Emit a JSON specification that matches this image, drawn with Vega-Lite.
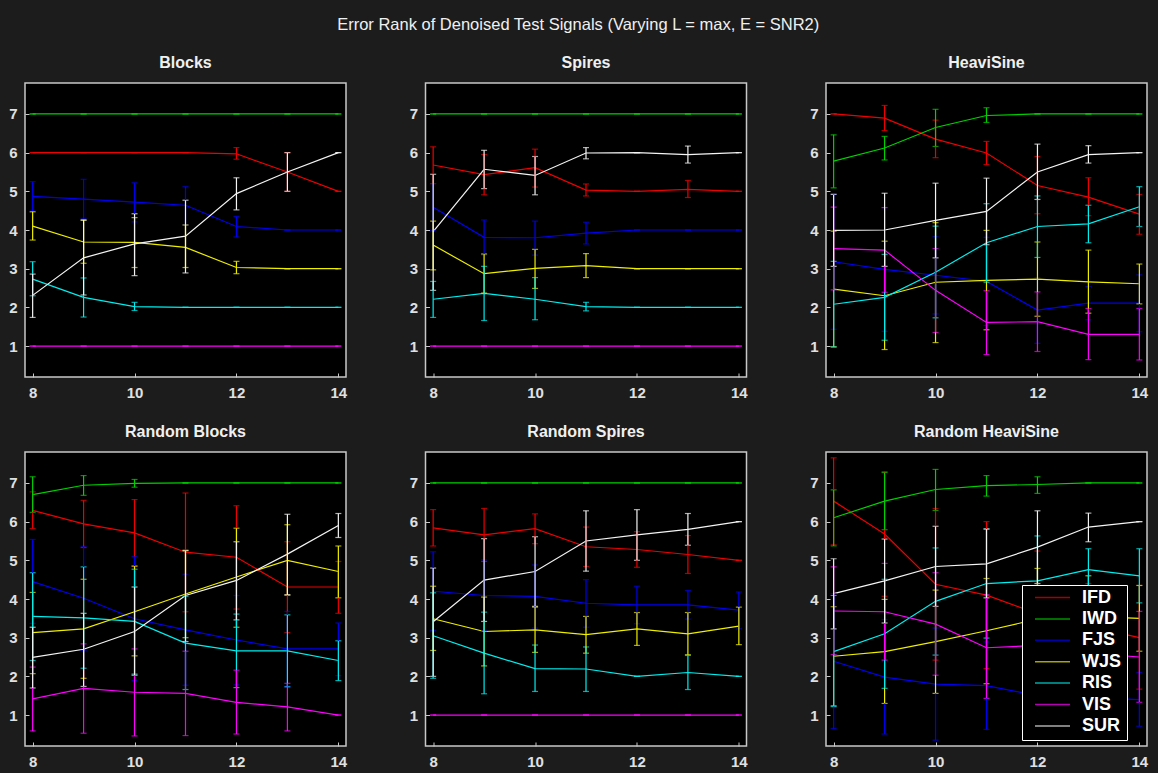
{
"$schema": "https://vega.github.io/schema/vega-lite/v6.json",
"background": "#1c1c1c",
"padding": {"left": 7, "top": 16, "right": 10, "bottom": 8},
"title": {"text": "Error Rank of Denoised Test Signals (Varying L = max, E = SNR2)", "color": "#f0f0f0", "fontSize": 16.5, "fontWeight": "normal", "font": "Liberation Sans", "anchor": "middle", "offset": 21},
"data": {"values": [
{"p":"Blocks","m":"IFD","x":8,"v":6,"lo":6,"hi":6},
{"p":"Blocks","m":"IFD","x":9,"v":6,"lo":6,"hi":6},
{"p":"Blocks","m":"IFD","x":10,"v":6,"lo":6,"hi":6},
{"p":"Blocks","m":"IFD","x":11,"v":6,"lo":6,"hi":6},
{"p":"Blocks","m":"IFD","x":12,"v":5.97,"lo":5.83,"hi":6.13},
{"p":"Blocks","m":"IFD","x":13,"v":5.5,"lo":5.0,"hi":6.0},
{"p":"Blocks","m":"IFD","x":14,"v":5,"lo":5,"hi":5},
{"p":"Blocks","m":"IWD","x":8,"v":7,"lo":7,"hi":7},
{"p":"Blocks","m":"IWD","x":9,"v":7,"lo":7,"hi":7},
{"p":"Blocks","m":"IWD","x":10,"v":7,"lo":7,"hi":7},
{"p":"Blocks","m":"IWD","x":11,"v":7,"lo":7,"hi":7},
{"p":"Blocks","m":"IWD","x":12,"v":7,"lo":7,"hi":7},
{"p":"Blocks","m":"IWD","x":13,"v":7,"lo":7,"hi":7},
{"p":"Blocks","m":"IWD","x":14,"v":7,"lo":7,"hi":7},
{"p":"Blocks","m":"FJS","x":8,"v":4.87,"lo":4.49,"hi":5.25},
{"p":"Blocks","m":"FJS","x":9,"v":4.80,"lo":4.29,"hi":5.31},
{"p":"Blocks","m":"FJS","x":10,"v":4.72,"lo":4.21,"hi":5.22},
{"p":"Blocks","m":"FJS","x":11,"v":4.64,"lo":4.13,"hi":5.12},
{"p":"Blocks","m":"FJS","x":12,"v":4.09,"lo":3.82,"hi":4.35},
{"p":"Blocks","m":"FJS","x":13,"v":4,"lo":4,"hi":4},
{"p":"Blocks","m":"FJS","x":14,"v":4,"lo":4,"hi":4},
{"p":"Blocks","m":"WJS","x":8,"v":4.10,"lo":3.74,"hi":4.47},
{"p":"Blocks","m":"WJS","x":9,"v":3.69,"lo":3.14,"hi":4.25},
{"p":"Blocks","m":"WJS","x":10,"v":3.68,"lo":3.03,"hi":4.32},
{"p":"Blocks","m":"WJS","x":11,"v":3.55,"lo":3.03,"hi":4.13},
{"p":"Blocks","m":"WJS","x":12,"v":3.03,"lo":2.87,"hi":3.19},
{"p":"Blocks","m":"WJS","x":13,"v":3,"lo":3,"hi":3},
{"p":"Blocks","m":"WJS","x":14,"v":3,"lo":3,"hi":3},
{"p":"Blocks","m":"RIS","x":8,"v":2.73,"lo":2.30,"hi":3.18},
{"p":"Blocks","m":"RIS","x":9,"v":2.26,"lo":1.75,"hi":2.76},
{"p":"Blocks","m":"RIS","x":10,"v":2.02,"lo":1.92,"hi":2.13},
{"p":"Blocks","m":"RIS","x":11,"v":2,"lo":2,"hi":2},
{"p":"Blocks","m":"RIS","x":12,"v":2,"lo":2,"hi":2},
{"p":"Blocks","m":"RIS","x":13,"v":2,"lo":2,"hi":2},
{"p":"Blocks","m":"RIS","x":14,"v":2,"lo":2,"hi":2},
{"p":"Blocks","m":"VIS","x":8,"v":1,"lo":1,"hi":1},
{"p":"Blocks","m":"VIS","x":9,"v":1,"lo":1,"hi":1},
{"p":"Blocks","m":"VIS","x":10,"v":1,"lo":1,"hi":1},
{"p":"Blocks","m":"VIS","x":11,"v":1,"lo":1,"hi":1},
{"p":"Blocks","m":"VIS","x":12,"v":1,"lo":1,"hi":1},
{"p":"Blocks","m":"VIS","x":13,"v":1,"lo":1,"hi":1},
{"p":"Blocks","m":"VIS","x":14,"v":1,"lo":1,"hi":1},
{"p":"Blocks","m":"SUR","x":8,"v":2.31,"lo":1.74,"hi":2.86},
{"p":"Blocks","m":"SUR","x":9,"v":3.28,"lo":2.32,"hi":4.26},
{"p":"Blocks","m":"SUR","x":10,"v":3.64,"lo":2.82,"hi":4.42},
{"p":"Blocks","m":"SUR","x":11,"v":3.84,"lo":2.89,"hi":4.77},
{"p":"Blocks","m":"SUR","x":12,"v":4.94,"lo":4.52,"hi":5.35},
{"p":"Blocks","m":"SUR","x":13,"v":5.5,"lo":5.0,"hi":6.0},
{"p":"Blocks","m":"SUR","x":14,"v":6,"lo":6,"hi":6},

{"p":"Spires","m":"IFD","x":8,"v":5.68,"lo":5.20,"hi":6.15},
{"p":"Spires","m":"IFD","x":9,"v":5.43,"lo":4.91,"hi":5.95},
{"p":"Spires","m":"IFD","x":10,"v":5.61,"lo":5.11,"hi":6.09},
{"p":"Spires","m":"IFD","x":11,"v":5.03,"lo":4.88,"hi":5.19},
{"p":"Spires","m":"IFD","x":12,"v":5,"lo":5,"hi":5},
{"p":"Spires","m":"IFD","x":13,"v":5.05,"lo":4.84,"hi":5.28},
{"p":"Spires","m":"IFD","x":14,"v":5,"lo":5,"hi":5},
{"p":"Spires","m":"IWD","x":8,"v":7,"lo":7,"hi":7},
{"p":"Spires","m":"IWD","x":9,"v":7,"lo":7,"hi":7},
{"p":"Spires","m":"IWD","x":10,"v":7,"lo":7,"hi":7},
{"p":"Spires","m":"IWD","x":11,"v":7,"lo":7,"hi":7},
{"p":"Spires","m":"IWD","x":12,"v":7,"lo":7,"hi":7},
{"p":"Spires","m":"IWD","x":13,"v":7,"lo":7,"hi":7},
{"p":"Spires","m":"IWD","x":14,"v":7,"lo":7,"hi":7},
{"p":"Spires","m":"FJS","x":8,"v":4.59,"lo":3.99,"hi":5.20},
{"p":"Spires","m":"FJS","x":9,"v":3.81,"lo":3.35,"hi":4.26},
{"p":"Spires","m":"FJS","x":10,"v":3.80,"lo":3.35,"hi":4.23},
{"p":"Spires","m":"FJS","x":11,"v":3.92,"lo":3.64,"hi":4.20},
{"p":"Spires","m":"FJS","x":12,"v":4,"lo":4,"hi":4},
{"p":"Spires","m":"FJS","x":13,"v":4,"lo":4,"hi":4},
{"p":"Spires","m":"FJS","x":14,"v":4,"lo":4,"hi":4},
{"p":"Spires","m":"WJS","x":8,"v":3.61,"lo":2.97,"hi":4.23},
{"p":"Spires","m":"WJS","x":9,"v":2.87,"lo":2.37,"hi":3.38},
{"p":"Spires","m":"WJS","x":10,"v":3.01,"lo":2.49,"hi":3.50},
{"p":"Spires","m":"WJS","x":11,"v":3.08,"lo":2.77,"hi":3.39},
{"p":"Spires","m":"WJS","x":12,"v":3,"lo":3,"hi":3},
{"p":"Spires","m":"WJS","x":13,"v":3,"lo":3,"hi":3},
{"p":"Spires","m":"WJS","x":14,"v":3,"lo":3,"hi":3},
{"p":"Spires","m":"RIS","x":8,"v":2.21,"lo":1.74,"hi":2.67},
{"p":"Spires","m":"RIS","x":9,"v":2.36,"lo":1.66,"hi":3.06},
{"p":"Spires","m":"RIS","x":10,"v":2.21,"lo":1.68,"hi":2.77},
{"p":"Spires","m":"RIS","x":11,"v":2.02,"lo":1.91,"hi":2.13},
{"p":"Spires","m":"RIS","x":12,"v":2,"lo":2,"hi":2},
{"p":"Spires","m":"RIS","x":13,"v":2,"lo":2,"hi":2},
{"p":"Spires","m":"RIS","x":14,"v":2,"lo":2,"hi":2},
{"p":"Spires","m":"VIS","x":8,"v":1,"lo":1,"hi":1},
{"p":"Spires","m":"VIS","x":9,"v":1,"lo":1,"hi":1},
{"p":"Spires","m":"VIS","x":10,"v":1,"lo":1,"hi":1},
{"p":"Spires","m":"VIS","x":11,"v":1,"lo":1,"hi":1},
{"p":"Spires","m":"VIS","x":12,"v":1,"lo":1,"hi":1},
{"p":"Spires","m":"VIS","x":13,"v":1,"lo":1,"hi":1},
{"p":"Spires","m":"VIS","x":14,"v":1,"lo":1,"hi":1},
{"p":"Spires","m":"SUR","x":8,"v":3.96,"lo":2.44,"hi":5.44},
{"p":"Spires","m":"SUR","x":9,"v":5.57,"lo":5.07,"hi":6.06},
{"p":"Spires","m":"SUR","x":10,"v":5.41,"lo":4.91,"hi":5.90},
{"p":"Spires","m":"SUR","x":11,"v":5.99,"lo":5.84,"hi":6.13},
{"p":"Spires","m":"SUR","x":12,"v":6,"lo":6,"hi":6},
{"p":"Spires","m":"SUR","x":13,"v":5.95,"lo":5.73,"hi":6.17},
{"p":"Spires","m":"SUR","x":14,"v":6,"lo":6,"hi":6},

{"p":"HeaviSine","m":"IFD","x":8,"v":7,"lo":7,"hi":7},
{"p":"HeaviSine","m":"IFD","x":9,"v":6.89,"lo":6.57,"hi":7.22},
{"p":"HeaviSine","m":"IFD","x":10,"v":6.35,"lo":5.87,"hi":6.84},
{"p":"HeaviSine","m":"IFD","x":11,"v":5.99,"lo":5.69,"hi":6.29},
{"p":"HeaviSine","m":"IFD","x":12,"v":5.15,"lo":4.42,"hi":5.90},
{"p":"HeaviSine","m":"IFD","x":13,"v":4.85,"lo":4.37,"hi":5.35},
{"p":"HeaviSine","m":"IFD","x":14,"v":4.41,"lo":3.89,"hi":4.92},
{"p":"HeaviSine","m":"IWD","x":8,"v":5.78,"lo":5.09,"hi":6.46},
{"p":"HeaviSine","m":"IWD","x":9,"v":6.12,"lo":5.81,"hi":6.42},
{"p":"HeaviSine","m":"IWD","x":10,"v":6.65,"lo":6.16,"hi":7.12},
{"p":"HeaviSine","m":"IWD","x":11,"v":6.96,"lo":6.78,"hi":7.16},
{"p":"HeaviSine","m":"IWD","x":12,"v":7,"lo":7,"hi":7},
{"p":"HeaviSine","m":"IWD","x":13,"v":7,"lo":7,"hi":7},
{"p":"HeaviSine","m":"IWD","x":14,"v":7,"lo":7,"hi":7},
{"p":"HeaviSine","m":"FJS","x":8,"v":3.18,"lo":1.43,"hi":4.93},
{"p":"HeaviSine","m":"FJS","x":9,"v":2.98,"lo":1.38,"hi":4.58},
{"p":"HeaviSine","m":"FJS","x":10,"v":2.83,"lo":1.83,"hi":3.83},
{"p":"HeaviSine","m":"FJS","x":11,"v":2.67,"lo":1.53,"hi":3.81},
{"p":"HeaviSine","m":"FJS","x":12,"v":1.93,"lo":1.07,"hi":2.77},
{"p":"HeaviSine","m":"FJS","x":13,"v":2.11,"lo":1.68,"hi":2.54},
{"p":"HeaviSine","m":"FJS","x":14,"v":2.11,"lo":1.37,"hi":2.84},
{"p":"HeaviSine","m":"WJS","x":8,"v":2.47,"lo":0.98,"hi":3.97},
{"p":"HeaviSine","m":"WJS","x":9,"v":2.30,"lo":0.91,"hi":3.71},
{"p":"HeaviSine","m":"WJS","x":10,"v":2.65,"lo":1.09,"hi":4.19},
{"p":"HeaviSine","m":"WJS","x":11,"v":2.70,"lo":1.42,"hi":3.99},
{"p":"HeaviSine","m":"WJS","x":12,"v":2.73,"lo":1.77,"hi":3.69},
{"p":"HeaviSine","m":"WJS","x":13,"v":2.66,"lo":1.85,"hi":3.48},
{"p":"HeaviSine","m":"WJS","x":14,"v":2.61,"lo":2.09,"hi":3.12},
{"p":"HeaviSine","m":"RIS","x":8,"v":2.08,"lo":0.98,"hi":3.19},
{"p":"HeaviSine","m":"RIS","x":9,"v":2.26,"lo":1.15,"hi":3.37},
{"p":"HeaviSine","m":"RIS","x":10,"v":2.91,"lo":1.73,"hi":4.10},
{"p":"HeaviSine","m":"RIS","x":11,"v":3.67,"lo":2.65,"hi":4.68},
{"p":"HeaviSine","m":"RIS","x":12,"v":4.09,"lo":3.29,"hi":4.88},
{"p":"HeaviSine","m":"RIS","x":13,"v":4.16,"lo":3.67,"hi":4.64},
{"p":"HeaviSine","m":"RIS","x":14,"v":4.60,"lo":4.09,"hi":5.12},
{"p":"HeaviSine","m":"VIS","x":8,"v":3.52,"lo":2.45,"hi":4.59},
{"p":"HeaviSine","m":"VIS","x":9,"v":3.48,"lo":2.39,"hi":4.58},
{"p":"HeaviSine","m":"VIS","x":10,"v":2.44,"lo":1.35,"hi":3.52},
{"p":"HeaviSine","m":"VIS","x":11,"v":1.61,"lo":0.78,"hi":2.43},
{"p":"HeaviSine","m":"VIS","x":12,"v":1.63,"lo":0.86,"hi":2.40},
{"p":"HeaviSine","m":"VIS","x":13,"v":1.30,"lo":0.65,"hi":1.97},
{"p":"HeaviSine","m":"VIS","x":14,"v":1.30,"lo":0.64,"hi":1.97},
{"p":"HeaviSine","m":"SUR","x":8,"v":3.99,"lo":3.06,"hi":4.92},
{"p":"HeaviSine","m":"SUR","x":9,"v":4.0,"lo":3.06,"hi":4.95},
{"p":"HeaviSine","m":"SUR","x":10,"v":4.25,"lo":3.28,"hi":5.21},
{"p":"HeaviSine","m":"SUR","x":11,"v":4.48,"lo":3.62,"hi":5.34},
{"p":"HeaviSine","m":"SUR","x":12,"v":5.50,"lo":4.79,"hi":6.22},
{"p":"HeaviSine","m":"SUR","x":13,"v":5.95,"lo":5.73,"hi":6.18},
{"p":"HeaviSine","m":"SUR","x":14,"v":6,"lo":6,"hi":6},

{"p":"Random Blocks","m":"IFD","x":8,"v":6.29,"lo":5.82,"hi":6.77},
{"p":"Random Blocks","m":"IFD","x":9,"v":5.94,"lo":5.33,"hi":6.55},
{"p":"Random Blocks","m":"IFD","x":10,"v":5.71,"lo":4.85,"hi":6.57},
{"p":"Random Blocks","m":"IFD","x":11,"v":5.21,"lo":3.67,"hi":6.74},
{"p":"Random Blocks","m":"IFD","x":12,"v":5.08,"lo":3.74,"hi":6.41},
{"p":"Random Blocks","m":"IFD","x":13,"v":4.31,"lo":3.13,"hi":5.48},
{"p":"Random Blocks","m":"IFD","x":14,"v":4.31,"lo":3.63,"hi":4.97},
{"p":"Random Blocks","m":"IWD","x":8,"v":6.70,"lo":6.24,"hi":7.16},
{"p":"Random Blocks","m":"IWD","x":9,"v":6.94,"lo":6.68,"hi":7.19},
{"p":"Random Blocks","m":"IWD","x":10,"v":6.99,"lo":6.89,"hi":7.09},
{"p":"Random Blocks","m":"IWD","x":11,"v":7,"lo":7,"hi":7},
{"p":"Random Blocks","m":"IWD","x":12,"v":7,"lo":7,"hi":7},
{"p":"Random Blocks","m":"IWD","x":13,"v":7,"lo":7,"hi":7},
{"p":"Random Blocks","m":"IWD","x":14,"v":7,"lo":7,"hi":7},
{"p":"Random Blocks","m":"FJS","x":8,"v":4.45,"lo":3.37,"hi":5.54},
{"p":"Random Blocks","m":"FJS","x":9,"v":4.02,"lo":2.67,"hi":5.36},
{"p":"Random Blocks","m":"FJS","x":10,"v":3.49,"lo":1.89,"hi":5.10},
{"p":"Random Blocks","m":"FJS","x":11,"v":3.20,"lo":1.77,"hi":4.64},
{"p":"Random Blocks","m":"FJS","x":12,"v":2.94,"lo":1.78,"hi":4.09},
{"p":"Random Blocks","m":"FJS","x":13,"v":2.71,"lo":1.74,"hi":3.68},
{"p":"Random Blocks","m":"FJS","x":14,"v":2.71,"lo":2.02,"hi":3.38},
{"p":"Random Blocks","m":"WJS","x":8,"v":3.13,"lo":2.07,"hi":4.17},
{"p":"Random Blocks","m":"WJS","x":9,"v":3.23,"lo":1.95,"hi":4.51},
{"p":"Random Blocks","m":"WJS","x":10,"v":3.67,"lo":2.53,"hi":4.85},
{"p":"Random Blocks","m":"WJS","x":11,"v":4.13,"lo":3.0,"hi":5.26},
{"p":"Random Blocks","m":"WJS","x":12,"v":4.57,"lo":3.27,"hi":5.83},
{"p":"Random Blocks","m":"WJS","x":13,"v":5.0,"lo":4.10,"hi":5.92},
{"p":"Random Blocks","m":"WJS","x":14,"v":4.71,"lo":4.03,"hi":5.37},
{"p":"Random Blocks","m":"RIS","x":8,"v":3.55,"lo":2.41,"hi":4.68},
{"p":"Random Blocks","m":"RIS","x":9,"v":3.51,"lo":2.21,"hi":4.83},
{"p":"Random Blocks","m":"RIS","x":10,"v":3.42,"lo":2.06,"hi":4.77},
{"p":"Random Blocks","m":"RIS","x":11,"v":2.86,"lo":1.66,"hi":4.07},
{"p":"Random Blocks","m":"RIS","x":12,"v":2.66,"lo":1.71,"hi":3.61},
{"p":"Random Blocks","m":"RIS","x":13,"v":2.66,"lo":1.73,"hi":3.59},
{"p":"Random Blocks","m":"RIS","x":14,"v":2.41,"lo":1.89,"hi":2.92},
{"p":"Random Blocks","m":"VIS","x":8,"v":1.42,"lo":0.59,"hi":2.24},
{"p":"Random Blocks","m":"VIS","x":9,"v":1.69,"lo":0.53,"hi":2.84},
{"p":"Random Blocks","m":"VIS","x":10,"v":1.59,"lo":0.46,"hi":2.71},
{"p":"Random Blocks","m":"VIS","x":11,"v":1.56,"lo":0.47,"hi":2.65},
{"p":"Random Blocks","m":"VIS","x":12,"v":1.33,"lo":0.51,"hi":2.16},
{"p":"Random Blocks","m":"VIS","x":13,"v":1.21,"lo":0.59,"hi":1.82},
{"p":"Random Blocks","m":"VIS","x":14,"v":1,"lo":1,"hi":1},
{"p":"Random Blocks","m":"SUR","x":8,"v":2.49,"lo":1.70,"hi":3.27},
{"p":"Random Blocks","m":"SUR","x":9,"v":2.70,"lo":1.74,"hi":3.63},
{"p":"Random Blocks","m":"SUR","x":10,"v":3.16,"lo":2.03,"hi":4.31},
{"p":"Random Blocks","m":"SUR","x":11,"v":4.09,"lo":2.90,"hi":5.25},
{"p":"Random Blocks","m":"SUR","x":12,"v":4.48,"lo":3.46,"hi":5.48},
{"p":"Random Blocks","m":"SUR","x":13,"v":5.16,"lo":4.11,"hi":6.19},
{"p":"Random Blocks","m":"SUR","x":14,"v":5.90,"lo":5.59,"hi":6.21},

{"p":"Random Spires","m":"IFD","x":8,"v":5.84,"lo":5.37,"hi":6.31},
{"p":"Random Spires","m":"IFD","x":9,"v":5.66,"lo":4.97,"hi":6.34},
{"p":"Random Spires","m":"IFD","x":10,"v":5.82,"lo":5.43,"hi":6.20},
{"p":"Random Spires","m":"IFD","x":11,"v":5.35,"lo":4.84,"hi":5.86},
{"p":"Random Spires","m":"IFD","x":12,"v":5.28,"lo":4.82,"hi":5.74},
{"p":"Random Spires","m":"IFD","x":13,"v":5.15,"lo":4.66,"hi":5.64},
{"p":"Random Spires","m":"IFD","x":14,"v":5,"lo":5,"hi":5},
{"p":"Random Spires","m":"IWD","x":8,"v":7,"lo":7,"hi":7},
{"p":"Random Spires","m":"IWD","x":9,"v":7,"lo":7,"hi":7},
{"p":"Random Spires","m":"IWD","x":10,"v":7,"lo":7,"hi":7},
{"p":"Random Spires","m":"IWD","x":11,"v":7,"lo":7,"hi":7},
{"p":"Random Spires","m":"IWD","x":12,"v":7,"lo":7,"hi":7},
{"p":"Random Spires","m":"IWD","x":13,"v":7,"lo":7,"hi":7},
{"p":"Random Spires","m":"IWD","x":14,"v":7,"lo":7,"hi":7},
{"p":"Random Spires","m":"FJS","x":8,"v":4.20,"lo":3.19,"hi":5.22},
{"p":"Random Spires","m":"FJS","x":9,"v":4.09,"lo":3.18,"hi":5.01},
{"p":"Random Spires","m":"FJS","x":10,"v":4.07,"lo":3.25,"hi":4.88},
{"p":"Random Spires","m":"FJS","x":11,"v":3.89,"lo":3.27,"hi":4.50},
{"p":"Random Spires","m":"FJS","x":12,"v":3.85,"lo":3.36,"hi":4.33},
{"p":"Random Spires","m":"FJS","x":13,"v":3.85,"lo":3.48,"hi":4.22},
{"p":"Random Spires","m":"FJS","x":14,"v":3.71,"lo":3.23,"hi":4.18},
{"p":"Random Spires","m":"WJS","x":8,"v":3.49,"lo":2.67,"hi":4.33},
{"p":"Random Spires","m":"WJS","x":9,"v":3.16,"lo":2.27,"hi":4.05},
{"p":"Random Spires","m":"WJS","x":10,"v":3.20,"lo":2.62,"hi":3.79},
{"p":"Random Spires","m":"WJS","x":11,"v":3.08,"lo":2.60,"hi":3.55},
{"p":"Random Spires","m":"WJS","x":12,"v":3.23,"lo":2.80,"hi":3.65},
{"p":"Random Spires","m":"WJS","x":13,"v":3.10,"lo":2.56,"hi":3.65},
{"p":"Random Spires","m":"WJS","x":14,"v":3.30,"lo":2.82,"hi":3.79},
{"p":"Random Spires","m":"RIS","x":8,"v":3.05,"lo":1.95,"hi":4.16},
{"p":"Random Spires","m":"RIS","x":9,"v":2.60,"lo":1.55,"hi":3.66},
{"p":"Random Spires","m":"RIS","x":10,"v":2.20,"lo":1.61,"hi":2.81},
{"p":"Random Spires","m":"RIS","x":11,"v":2.19,"lo":1.61,"hi":2.76},
{"p":"Random Spires","m":"RIS","x":12,"v":2,"lo":2,"hi":2},
{"p":"Random Spires","m":"RIS","x":13,"v":2.10,"lo":1.66,"hi":2.54},
{"p":"Random Spires","m":"RIS","x":14,"v":2,"lo":2,"hi":2},
{"p":"Random Spires","m":"VIS","x":8,"v":1,"lo":1,"hi":1},
{"p":"Random Spires","m":"VIS","x":9,"v":1,"lo":1,"hi":1},
{"p":"Random Spires","m":"VIS","x":10,"v":1,"lo":1,"hi":1},
{"p":"Random Spires","m":"VIS","x":11,"v":1,"lo":1,"hi":1},
{"p":"Random Spires","m":"VIS","x":12,"v":1,"lo":1,"hi":1},
{"p":"Random Spires","m":"VIS","x":13,"v":1,"lo":1,"hi":1},
{"p":"Random Spires","m":"VIS","x":14,"v":1,"lo":1,"hi":1},
{"p":"Random Spires","m":"SUR","x":8,"v":3.41,"lo":2.0,"hi":4.80},
{"p":"Random Spires","m":"SUR","x":9,"v":4.49,"lo":3.42,"hi":5.56},
{"p":"Random Spires","m":"SUR","x":10,"v":4.71,"lo":3.81,"hi":5.61},
{"p":"Random Spires","m":"SUR","x":11,"v":5.50,"lo":4.72,"hi":6.28},
{"p":"Random Spires","m":"SUR","x":12,"v":5.66,"lo":5.0,"hi":6.31},
{"p":"Random Spires","m":"SUR","x":13,"v":5.80,"lo":5.39,"hi":6.21},
{"p":"Random Spires","m":"SUR","x":14,"v":6,"lo":6,"hi":6},

{"p":"Random HeaviSine","m":"IFD","x":8,"v":6.53,"lo":5.40,"hi":7.65},
{"p":"Random HeaviSine","m":"IFD","x":9,"v":5.68,"lo":4.07,"hi":7.29},
{"p":"Random HeaviSine","m":"IFD","x":10,"v":4.38,"lo":2.42,"hi":6.34},
{"p":"Random HeaviSine","m":"IFD","x":11,"v":4.10,"lo":2.20,"hi":6.0},
{"p":"Random HeaviSine","m":"IFD","x":12,"v":3.62,"lo":2.0,"hi":5.24},
{"p":"Random HeaviSine","m":"IFD","x":13,"v":3.3,"lo":2.2,"hi":4.4},
{"p":"Random HeaviSine","m":"IFD","x":14,"v":3.0,"lo":1.67,"hi":4.35},
{"p":"Random HeaviSine","m":"IWD","x":8,"v":6.10,"lo":5.37,"hi":6.82},
{"p":"Random HeaviSine","m":"IWD","x":9,"v":6.53,"lo":5.79,"hi":7.27},
{"p":"Random HeaviSine","m":"IWD","x":10,"v":6.83,"lo":6.29,"hi":7.35},
{"p":"Random HeaviSine","m":"IWD","x":11,"v":6.93,"lo":6.66,"hi":7.19},
{"p":"Random HeaviSine","m":"IWD","x":12,"v":6.96,"lo":6.73,"hi":7.16},
{"p":"Random HeaviSine","m":"IWD","x":13,"v":7,"lo":7,"hi":7},
{"p":"Random HeaviSine","m":"IWD","x":14,"v":7,"lo":7,"hi":7},
{"p":"Random HeaviSine","m":"FJS","x":8,"v":2.39,"lo":0.65,"hi":4.14},
{"p":"Random HeaviSine","m":"FJS","x":9,"v":1.98,"lo":0.51,"hi":3.47},
{"p":"Random HeaviSine","m":"FJS","x":10,"v":1.80,"lo":0.35,"hi":3.25},
{"p":"Random HeaviSine","m":"FJS","x":11,"v":1.76,"lo":0.63,"hi":2.89},
{"p":"Random HeaviSine","m":"FJS","x":12,"v":1.5,"lo":0.6,"hi":2.4},
{"p":"Random HeaviSine","m":"FJS","x":13,"v":1.45,"lo":0.7,"hi":2.2},
{"p":"Random HeaviSine","m":"FJS","x":14,"v":1.40,"lo":0.71,"hi":2.10},
{"p":"Random HeaviSine","m":"WJS","x":8,"v":2.52,"lo":1.24,"hi":3.80},
{"p":"Random HeaviSine","m":"WJS","x":9,"v":2.64,"lo":1.30,"hi":3.99},
{"p":"Random HeaviSine","m":"WJS","x":10,"v":2.90,"lo":1.56,"hi":4.23},
{"p":"Random HeaviSine","m":"WJS","x":11,"v":3.18,"lo":1.81,"hi":4.53},
{"p":"Random HeaviSine","m":"WJS","x":12,"v":3.48,"lo":2.17,"hi":4.79},
{"p":"Random HeaviSine","m":"WJS","x":13,"v":3.55,"lo":2.5,"hi":4.6},
{"p":"Random HeaviSine","m":"WJS","x":14,"v":3.5,"lo":2.65,"hi":4.35},
{"p":"Random HeaviSine","m":"RIS","x":8,"v":2.64,"lo":1.22,"hi":4.09},
{"p":"Random HeaviSine","m":"RIS","x":9,"v":3.10,"lo":1.69,"hi":4.51},
{"p":"Random HeaviSine","m":"RIS","x":10,"v":3.94,"lo":2.55,"hi":5.32},
{"p":"Random HeaviSine","m":"RIS","x":11,"v":4.40,"lo":2.99,"hi":5.81},
{"p":"Random HeaviSine","m":"RIS","x":12,"v":4.47,"lo":3.31,"hi":5.63},
{"p":"Random HeaviSine","m":"RIS","x":13,"v":4.76,"lo":4.21,"hi":5.30},
{"p":"Random HeaviSine","m":"RIS","x":14,"v":4.60,"lo":3.90,"hi":5.30},
{"p":"Random HeaviSine","m":"VIS","x":8,"v":3.69,"lo":2.56,"hi":4.83},
{"p":"Random HeaviSine","m":"VIS","x":9,"v":3.67,"lo":2.42,"hi":4.92},
{"p":"Random HeaviSine","m":"VIS","x":10,"v":3.35,"lo":2.03,"hi":4.68},
{"p":"Random HeaviSine","m":"VIS","x":11,"v":2.74,"lo":1.43,"hi":4.11},
{"p":"Random HeaviSine","m":"VIS","x":12,"v":2.8,"lo":1.6,"hi":4.0},
{"p":"Random HeaviSine","m":"VIS","x":13,"v":2.6,"lo":1.5,"hi":3.7},
{"p":"Random HeaviSine","m":"VIS","x":14,"v":2.5,"lo":1.33,"hi":3.68},
{"p":"Random HeaviSine","m":"SUR","x":8,"v":4.14,"lo":3.23,"hi":5.04},
{"p":"Random HeaviSine","m":"SUR","x":9,"v":4.47,"lo":3.38,"hi":5.55},
{"p":"Random HeaviSine","m":"SUR","x":10,"v":4.84,"lo":3.81,"hi":5.88},
{"p":"Random HeaviSine","m":"SUR","x":11,"v":4.91,"lo":4.03,"hi":5.81},
{"p":"Random HeaviSine","m":"SUR","x":12,"v":5.34,"lo":4.40,"hi":6.28},
{"p":"Random HeaviSine","m":"SUR","x":13,"v":5.86,"lo":5.48,"hi":6.22},
{"p":"Random HeaviSine","m":"SUR","x":14,"v":6,"lo":6,"hi":6}
]},
"facet": {"field": "p", "type": "nominal", "sort": ["Blocks", "Spires", "HeaviSine", "Random Blocks", "Random Spires", "Random HeaviSine"],
  "header": {"title": null, "labelFontSize": 16, "labelFontWeight": "bold", "labelColor": "#f0f0f0", "labelFont": "Liberation Sans", "labelPadding": 12}},
"columns": 3,
"spacing": {"column": 59.5, "row": 22},
"resolve": {"axis": {"x": "independent", "y": "independent"}},
"spec": {
  "width": 321, "height": 294,
  "layer": [
    {"mark": {"type": "line", "strokeWidth": 1.2},
     "encoding": {
       "x": {"field": "x", "type": "quantitative", "scale": {"domain": [7.85, 14.15], "nice": false, "zero": false}, "axis": {"values": [8, 10, 12, 14], "format": "d", "title": null}},
       "y": {"field": "v", "type": "quantitative", "scale": {"domain": [0.2, 7.8], "nice": false, "zero": false}, "axis": {"values": [1, 2, 3, 4, 5, 6, 7], "format": "d", "title": null}},
       "color": {"field": "m", "type": "nominal", "scale": {"domain": ["IFD", "IWD", "FJS", "WJS", "RIS", "VIS", "SUR"], "range": ["#ee0000", "#00d000", "#0000ee", "#eeee00", "#00eeee", "#ff00ff", "#f4f4f4"]}, "legend": {"title": null}}
     }},
    {"mark": {"type": "errorbar", "ticks": {"size": 6}, "thickness": 1.2},
     "encoding": {
       "x": {"field": "x", "type": "quantitative"},
       "y": {"field": "lo", "type": "quantitative"},
       "y2": {"field": "hi"},
       "color": {"field": "m", "type": "nominal"}
     }}
  ]
},
"config": {
  "font": "Liberation Sans",
  "view": {"fill": "#000000", "stroke": "#c8c8c8", "strokeWidth": 1.5},
  "axis": {"grid": false, "domain": false, "labelFont": "Liberation Sans", "labelFontSize": 15, "labelFontWeight": "bold", "labelColor": "#e0e0e0", "tickColor": "#c8c8c8", "tickSize": -4, "labelPadding": 12},
  "legend": {"orient": "none", "legendX": 997, "legendY": 502, "fillColor": "#000000", "strokeColor": "#ffffff", "padding": 5, "labelFont": "Liberation Sans", "labelFontSize": 18, "labelFontWeight": "bold", "labelColor": "#ffffff", "symbolType": "stroke", "symbolSize": 1225, "symbolStrokeWidth": 1.5, "symbolOffset": 7, "labelOffset": 11, "clipHeight": 15, "rowPadding": 2.4}
}
}
